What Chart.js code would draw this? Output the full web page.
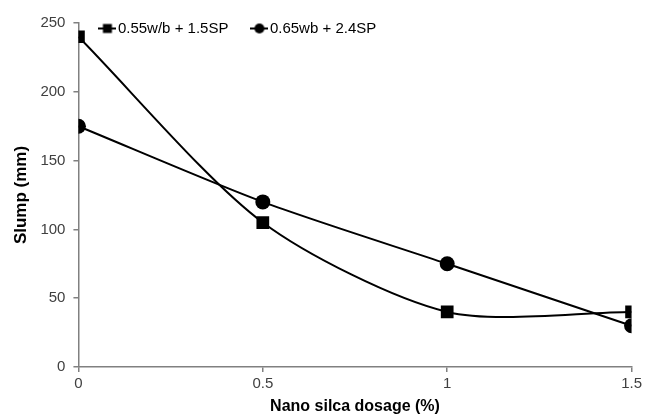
<!DOCTYPE html>
<html>
<head>
<meta charset="utf-8">
<script src="https://cdn.jsdelivr.net/npm/chart.js@4/dist/chart.umd.min.js"></script>
<style>
  html, body { margin: 0; padding: 0; background: #fff; }
  #wrap { width: 645px; height: 415px; }
</style>
</head>
<body>
<div id="wrap"><canvas id="slumpChart"></canvas></div>
<script>
// Data
const dosage = [0, 0.5, 1, 1.5];
const slumpA = [240, 105, 40, 40];   // 0.55w/b + 1.5SP
const slumpB = [175, 120, 75, 30];   // 0.65wb + 2.4SP
const xTicks = ['0', '0.5', '1', '1.5'];
const yTicks = [0, 50, 100, 150, 200, 250];

const FONT = "'Liberation Sans', Arial, sans-serif";

// little legend icons: a short line with the marker on it
function legendIcon(shape) {
    const c = document.createElement('canvas');
    c.width = 18; c.height = 12;
    const g = c.getContext('2d');
    g.strokeStyle = '#000';
    g.lineWidth = 2;
    g.beginPath(); g.moveTo(0, 6); g.lineTo(18, 6); g.stroke();
    g.fillStyle = '#000';
    if (shape === 'rect') {
        g.fillRect(4.5, 1.5, 9, 9);
    } else {
        g.beginPath(); g.arc(9, 6, 5, 0, Math.PI * 2); g.fill();
    }
    return c;
}

// Legend sits inside the plot (like Excel): take no layout space, then move it
const legendOverlay = {
    id: 'legendOverlay',
    beforeLayout(chart) {
        const lg = chart.legend;
        if (lg && !lg._overlay) {
            const fit = lg.fit;
            lg.fit = function () {
                fit.call(this);
                this.height = 0;
            };
            lg._overlay = true;
        }
    },
    afterLayout(chart) {
        const lg = chart.legend;
        const area = chart.chartArea;
        lg.left = area.left - 2;
        lg.right = area.right;
        lg.width = lg.right - lg.left;
        lg.top = -7;
        lg.bottom = lg.top + 90;
        lg.height = 90;
    }
};

const toPoints = vals => dosage.map((x, i) => ({ x: x, y: vals[i] }));

const ctx = document.getElementById('slumpChart').getContext('2d');
new Chart(ctx, {
    type: 'line',
    data: {
        datasets: [
            {
                label: '0.55w/b + 1.5SP',
                data: toPoints(slumpA),
                borderColor: '#000',
                backgroundColor: '#000',
                borderWidth: 2,
                tension: 0.27,
                pointStyle: 'rect',
                pointRadius: 9,
                pointBorderWidth: 0
            },
            {
                label: '0.65wb + 2.4SP',
                data: toPoints(slumpB),
                borderColor: '#000',
                backgroundColor: '#000',
                borderWidth: 2,
                tension: 0.27,
                pointStyle: 'circle',
                pointRadius: 7.5,
                pointBorderWidth: 0
            }
        ]
    },
    plugins: [legendOverlay],
    options: {
        responsive: true,
        maintainAspectRatio: false,
        animation: false,
        layout: { padding: { left: 11, right: 5, top: 23, bottom: 0 } },
        plugins: {
            tooltip: { enabled: false },
            legend: {
                position: 'top',
                align: 'start',
                fullSize: false,
                labels: {
                    usePointStyle: true,
                    pointStyleWidth: 6,
                    generateLabels: chart => chart.data.datasets.map((ds, i) => ({
                        text: ds.label,
                        pointStyle: legendIcon(i === 0 ? 'rect' : 'circle'),
                        datasetIndex: i,
                        fontColor: '#000'
                    })),
                    color: '#000',
                    font: { family: FONT, size: 15, lineHeight: 1 },
                    padding: 28
                }
            }
        },
        scales: {
            x: {
                type: 'linear',
                min: 0,
                max: 1.5,
                afterBuildTicks: axis => { axis.ticks = dosage.map(v => ({ value: v })); },
                ticks: {
                    callback: (v) => xTicks[dosage.indexOf(v)],
                    color: '#404040',
                    font: { family: FONT, size: 15 },
                    padding: 3,
                    maxRotation: 0
                },
                grid: { display: true, drawOnChartArea: false, tickLength: 5, color: '#808080', lineWidth: 1.5 },
                border: { color: '#808080', width: 1.5 },
                title: {
                    display: true,
                    text: 'Nano silca dosage (%)',
                    color: '#000',
                    font: { family: FONT, size: 16, weight: 'bold', lineHeight: 1 },
                    padding: { top: 3, bottom: 0 }
                }
            },
            y: {
                min: 0,
                max: 250,
                afterBuildTicks: axis => { axis.ticks = yTicks.map(v => ({ value: v })); },
                ticks: {
                    color: '#404040',
                    font: { family: FONT, size: 15 },
                    padding: 8
                },
                grid: { display: true, drawOnChartArea: false, tickLength: 5, color: '#808080', lineWidth: 1.5 },
                border: { color: '#808080', width: 1.5 },
                title: {
                    display: true,
                    text: 'Slump (mm)',
                    color: '#000',
                    font: { family: FONT, size: 17, weight: 'bold' },
                    padding: { top: 0, bottom: 1 }
                }
            }
        }
    }
});
</script>
</body>
</html>
